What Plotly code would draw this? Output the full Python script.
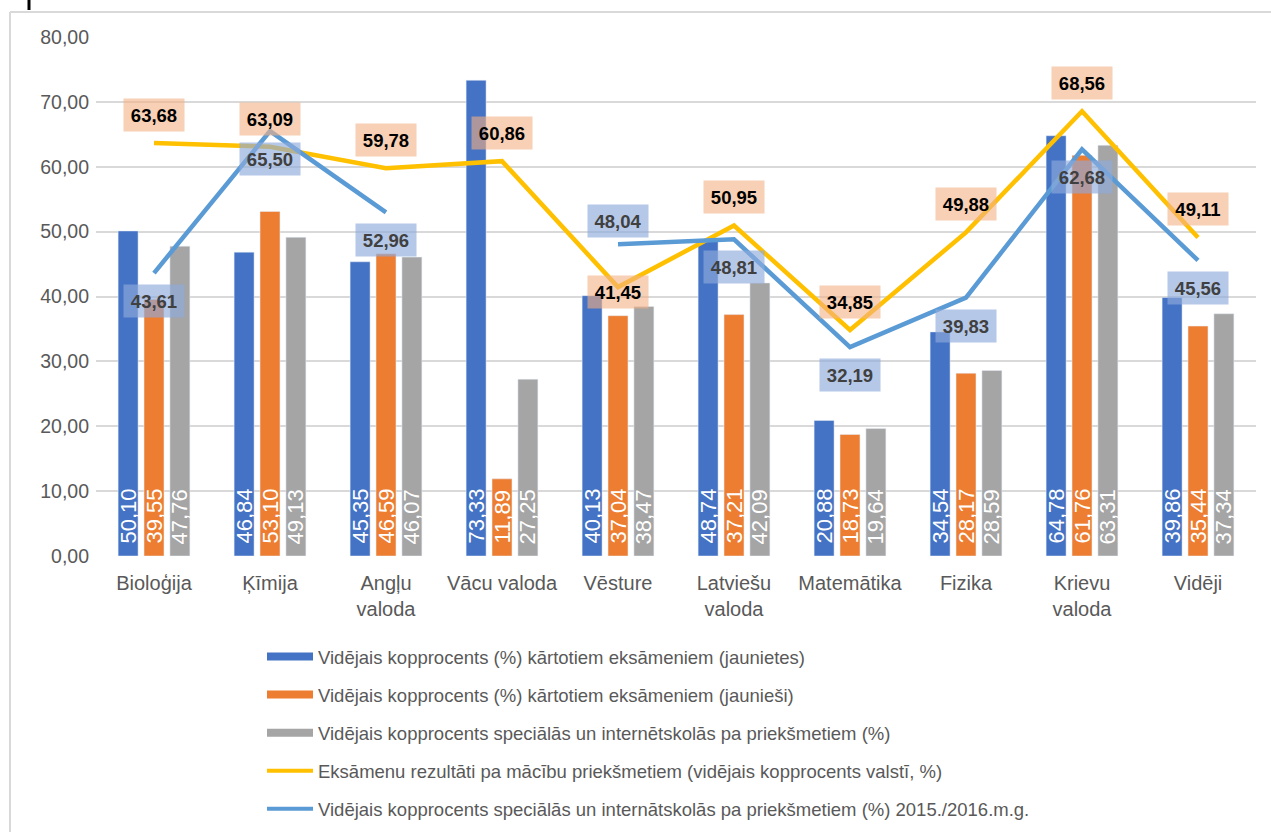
import plotly.graph_objects as go

categories = ["Bioloģija", "Ķīmija", "Angļu<br>valoda", "Vācu valoda", "Vēsture",
              "Latviešu<br>valoda", "Matemātika", "Fizika", "Krievu<br>valoda", "Vidēji"]

girls = [50.10, 46.84, 45.35, 73.33, 40.13, 48.74, 20.88, 34.54, 64.78, 39.86]
boys = [39.55, 53.10, 46.59, 11.89, 37.04, 37.21, 18.73, 28.17, 61.76, 35.44]
special = [47.76, 49.13, 46.07, 27.25, 38.47, 42.09, 19.64, 28.59, 63.31, 37.34]
national = [63.68, 63.09, 59.78, 60.86, 41.45, 50.95, 34.85, 49.88, 68.56, 49.11]
special_prev = [43.61, 65.50, 52.96, None, 48.04, 48.81, 32.19, 39.83, 62.68, 45.56]

y_ticks = [0, 10, 20, 30, 40, 50, 60, 70, 80]

names = [
    "Vidējais kopprocents (%) kārtotiem eksāmeniem (jaunietes)",
    "Vidējais kopprocents (%) kārtotiem eksāmeniem (jaunieši)",
    "Vidējais kopprocents speciālās un internētskolās pa priekšmetiem (%)",
    "Eksāmenu rezultāti pa mācību priekšmetiem (vidējais kopprocents valstī, %)",
    "Vidējais kopprocents speciālās un internātskolās pa priekšmetiem (%) 2015./2016.m.g.",
]

C_BLUE, C_ORANGE, C_GRAY = "#4472C4", "#ED7D31", "#A5A5A5"
C_YELLOW, C_LBLUE = "#FFC000", "#5B9BD5"
FONT = "Liberation Sans"
W, H = 1271, 832
M_L, M_R, M_T, M_B = 96, 15, 37, 276
BARGAP, BARGROUPGAP = 0.33, 0.23

fig = go.Figure()

bar_series = [(girls, C_BLUE), (boys, C_ORANGE), (special, C_GRAY)]
for vals, col in bar_series:
    fig.add_trace(go.Bar(x=categories, y=vals, marker_color=col, showlegend=False,
                         hoverinfo="skip"))

fig.add_trace(go.Scatter(x=categories, y=national, mode="lines", showlegend=False,
                         line=dict(color=C_YELLOW, width=4.5)))
fig.add_trace(go.Scatter(x=categories, y=special_prev, mode="lines", showlegend=False,
                         connectgaps=False, line=dict(color=C_LBLUE, width=4.5)))

# legend entries
for i, (nm, col, w) in enumerate([(names[0], C_BLUE, 8), (names[1], C_ORANGE, 8),
                                  (names[2], C_GRAY, 8), (names[3], C_YELLOW, 4),
                                  (names[4], C_LBLUE, 4)]):
    fig.add_trace(go.Scatter(x=[None], y=[None], mode="lines", name=nm,
                             line=dict(color=col, width=w), legendgroup=f"g{i}"))

def fmt(v):
    return f"{v:.2f}".replace(".", ",")

# bar value labels (white, vertical, at bar base)
slot = (W - M_L - M_R) / len(categories) * (1 - BARGAP) / len(bar_series)
for k, (vals, col) in enumerate(bar_series):
    off = (k - (len(bar_series) - 1) / 2) * slot
    for c, v in zip(categories, vals):
        fig.add_annotation(x=c, y=0, text=fmt(v), showarrow=False, textangle=-90,
                           xshift=off, yanchor="bottom", yshift=10,
                           font=dict(family=FONT, size=22, color="white"))

# line value labels
nat_shift = {4: -5}
prev_shift = {4: 23}
for i, (c, v) in enumerate(zip(categories, national)):
    fig.add_annotation(x=c, y=v, text=fmt(v), showarrow=False,
                       yshift=nat_shift.get(i, 28), width=58, height=30,
                       bgcolor="rgba(244,176,132,0.6)",
                       font=dict(family=FONT, size=18.5, color="black", weight="bold"))
for i, (c, v) in enumerate(zip(categories, special_prev)):
    if v is None:
        continue
    fig.add_annotation(x=c, y=v, text=fmt(v), showarrow=False,
                       yshift=prev_shift.get(i, -28), width=58, height=30,
                       bgcolor="rgba(143,170,220,0.65)",
                       font=dict(family=FONT, size=18.5, color="#404040", weight="bold"))

def px_x(p):
    return (p - M_L) / (W - M_L - M_R)

def px_y(p):
    return (H - M_B - p) / (H - M_T - M_B)

# outer chart frame (top and left visible)
fig.add_shape(type="line", xref="paper", yref="paper",
              x0=px_x(10), x1=px_x(1275), y0=px_y(12), y1=px_y(12),
              line=dict(color="#D9D9D9", width=2), layer="below")
fig.add_shape(type="line", xref="paper", yref="paper",
              x0=px_x(10), x1=px_x(10), y0=px_y(12), y1=px_y(840),
              line=dict(color="#D9D9D9", width=2), layer="below")
fig.add_shape(type="line", xref="paper", yref="paper",
              x0=px_x(29), x1=px_x(29), y0=px_y(0), y1=px_y(10),
              line=dict(color="black", width=3))

fig.update_layout(
    width=W, height=H,
    margin=dict(l=M_L, r=M_R, t=M_T, b=M_B, autoexpand=False),
    paper_bgcolor="white", plot_bgcolor="white",
    separators=", ",
    barmode="group", bargap=BARGAP, bargroupgap=BARGROUPGAP,
    font=dict(family=FONT, color="#595959"),
    xaxis=dict(showgrid=False, showline=False, ticks="", tickfont=dict(size=20, color="#595959"),
               ticklabelstandoff=13),
    yaxis=dict(range=[0, 80], tickvals=y_ticks, tickformat=".2f", showgrid=True,
               gridcolor="#D9D9D9", gridwidth=1.5, zeroline=False, showline=False,
               tickfont=dict(size=19.5, color="#595959"), ticklabelstandoff=6),
    legend=dict(xref="container", yref="container",
                x=262 / W, y=1 - 638 / H, xanchor="left", yanchor="top",
                orientation="v", tracegroupgap=11, itemwidth=46,
                font=dict(size=18.5, color="#595959", family=FONT)),
    showlegend=True,
)

fig.write_html("out.html", post_script="document.body.style.margin='0px';",
               config={"displayModeBar": False})
